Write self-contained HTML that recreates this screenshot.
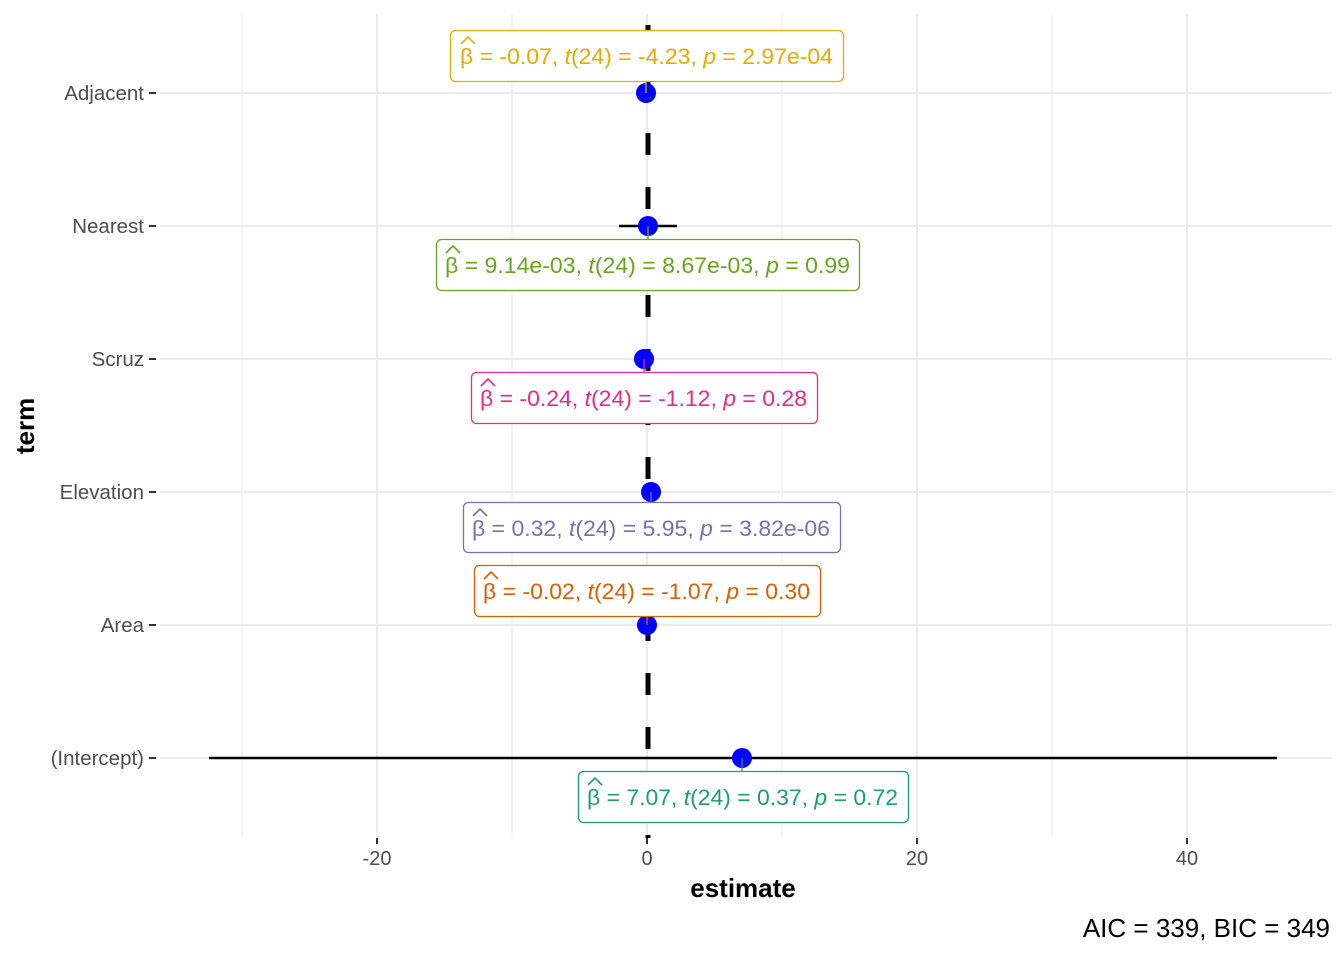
<!DOCTYPE html>
<html><head><meta charset="utf-8"><style>
html,body{margin:0;padding:0;background:#fff;}
svg{display:block;font-family:"Liberation Sans",sans-serif;}
</style></head><body>
<svg width="1344" height="960" viewBox="0 0 1344 960" xmlns="http://www.w3.org/2000/svg">
<defs><clipPath id="c"><rect x="160" y="14" width="1172" height="824"/></clipPath></defs>
<g stroke="#ebebeb" stroke-width="1">
<line x1="242" y1="14" x2="242" y2="838"/><line x1="512" y1="14" x2="512" y2="838"/>
<line x1="782" y1="14" x2="782" y2="838"/><line x1="1052" y1="14" x2="1052" y2="838"/>
</g>
<g stroke="#ebebeb" stroke-width="2">
<line x1="377" y1="14" x2="377" y2="838"/><line x1="647" y1="14" x2="647" y2="838"/>
<line x1="917" y1="14" x2="917" y2="838"/><line x1="1187" y1="14" x2="1187" y2="838"/>
<line x1="160" y1="93" x2="1332" y2="93"/><line x1="160" y1="226" x2="1332" y2="226"/>
<line x1="160" y1="359" x2="1332" y2="359"/><line x1="160" y1="492" x2="1332" y2="492"/>
<line x1="160" y1="625" x2="1332" y2="625"/><line x1="160" y1="758" x2="1332" y2="758"/>
</g>
<line x1="648" y1="-29" x2="648" y2="838" stroke="#000" stroke-width="5" stroke-dasharray="22 32" clip-path="url(#c)"/>
<g stroke="#000" stroke-width="2.5">
<line x1="619" y1="226" x2="677" y2="226"/>
<line x1="209" y1="758" x2="1277" y2="758"/>
</g>
<g fill="#0000ff">
<circle cx="646" cy="93" r="10"/><circle cx="648" cy="226" r="10"/><circle cx="644" cy="359" r="10"/>
<circle cx="651" cy="492" r="10"/><circle cx="647" cy="625" r="10"/><circle cx="742" cy="758" r="10"/>
</g>
<g font-size="22" stroke-width="1.3">
<g stroke="#e6ab02" fill="#e6ab02"><line x1="646" y1="81" x2="646" y2="93"/><rect x="450.5" y="30.5" width="393" height="51" rx="5" fill="#fff"/>
<path d="M461 44 l7 -7 l7 7" fill="none" stroke-width="1.6"/>
<text x="460" y="64" stroke="none" textLength="373" lengthAdjust="spacingAndGlyphs">β = -0.07, <tspan font-style="italic">t</tspan>(24) = -4.23, <tspan font-style="italic">p</tspan> = 2.97e-04</text></g>
<g stroke="#66a61e" fill="#66a61e"><line x1="648" y1="226" x2="648" y2="239"/><rect x="436.5" y="239.5" width="423" height="51" rx="5" fill="#fff"/>
<path d="M446 253 l7 -7 l7 7" fill="none" stroke-width="1.6"/>
<text x="445" y="273" stroke="none" textLength="405" lengthAdjust="spacingAndGlyphs">β = 9.14e-03, <tspan font-style="italic">t</tspan>(24) = 8.67e-03, <tspan font-style="italic">p</tspan> = 0.99</text></g>
<g stroke="#e7298a" fill="#e7298a"><line x1="644" y1="359" x2="644" y2="372"/><rect x="471.5" y="372.5" width="346" height="51" rx="5" fill="#fff"/>
<path d="M481 386 l7 -7 l7 7" fill="none" stroke-width="1.6"/>
<text x="480" y="406" stroke="none" textLength="327" lengthAdjust="spacingAndGlyphs">β = -0.24, <tspan font-style="italic">t</tspan>(24) = -1.12, <tspan font-style="italic">p</tspan> = 0.28</text></g>
<g stroke="#7570b3" fill="#7570b3"><line x1="651" y1="492" x2="651" y2="502"/><rect x="463.5" y="502.5" width="377" height="50" rx="5" fill="#fff"/>
<path d="M473 516 l7 -7 l7 7" fill="none" stroke-width="1.6"/>
<text x="472" y="536" stroke="none" textLength="358" lengthAdjust="spacingAndGlyphs">β = 0.32, <tspan font-style="italic">t</tspan>(24) = 5.95, <tspan font-style="italic">p</tspan> = 3.82e-06</text></g>
<g stroke="#d95f02" fill="#d95f02"><line x1="647" y1="616" x2="647" y2="625"/><rect x="474.5" y="565.5" width="346" height="51" rx="5" fill="#fff"/>
<path d="M484 579 l7 -7 l7 7" fill="none" stroke-width="1.6"/>
<text x="483" y="599" stroke="none" textLength="327" lengthAdjust="spacingAndGlyphs">β = -0.02, <tspan font-style="italic">t</tspan>(24) = -1.07, <tspan font-style="italic">p</tspan> = 0.30</text></g>
<g stroke="#1b9e77" fill="#1b9e77"><line x1="742" y1="758" x2="742" y2="771"/><rect x="578.5" y="771.5" width="330" height="51" rx="5" fill="#fff"/>
<path d="M588 785 l7 -7 l7 7" fill="none" stroke-width="1.6"/>
<text x="587" y="805" stroke="none" textLength="311" lengthAdjust="spacingAndGlyphs">β = 7.07, <tspan font-style="italic">t</tspan>(24) = 0.37, <tspan font-style="italic">p</tspan> = 0.72</text></g>
</g>
<g font-size="20.5" fill="#4d4d4d" text-anchor="end">
<text x="144" y="100">Adjacent</text><text x="144" y="233">Nearest</text><text x="144" y="366">Scruz</text>
<text x="144" y="499">Elevation</text><text x="144" y="632">Area</text><text x="144" y="765">(Intercept)</text>
</g>
<g stroke="#333" stroke-width="2">
<line x1="149" y1="93" x2="156" y2="93"/><line x1="149" y1="226" x2="156" y2="226"/><line x1="149" y1="359" x2="156" y2="359"/>
<line x1="149" y1="492" x2="156" y2="492"/><line x1="149" y1="625" x2="156" y2="625"/><line x1="149" y1="758" x2="156" y2="758"/>
<line x1="377" y1="838" x2="377" y2="844"/><line x1="647" y1="838" x2="647" y2="844"/><line x1="917" y1="838" x2="917" y2="844"/><line x1="1187" y1="838" x2="1187" y2="844"/>
</g>
<g font-size="20" fill="#4d4d4d" text-anchor="middle">
<text x="377" y="865">-20</text><text x="647" y="865">0</text><text x="917" y="865">20</text><text x="1187" y="865">40</text>
</g>
<text x="743" y="897" font-size="26" font-weight="bold" text-anchor="middle">estimate</text>
<text transform="translate(34,426) rotate(-90)" font-size="26" font-weight="bold" text-anchor="middle">term</text>
<text x="1330" y="937" font-size="26" text-anchor="end">AIC = 339, BIC = 349</text>
</svg>
</body></html>
